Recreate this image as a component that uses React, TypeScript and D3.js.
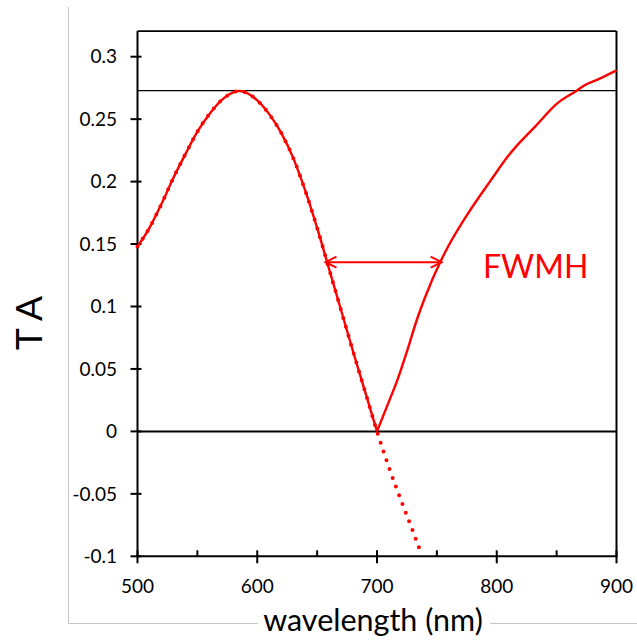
import React from "react";
import * as d3 from "d3";

// Measured series (wavelength nm, value)
const wlModel = [500, 510, 520, 530, 540, 550, 560, 570, 580, 585, 590, 600, 610, 620, 630, 640, 650, 660, 670, 680, 690, 700, 710, 720, 730, 737];
const taModel = [0.148, 0.163, 0.182, 0.203, 0.222, 0.240, 0.254, 0.265, 0.2715, 0.2725, 0.2715, 0.265, 0.254, 0.239, 0.219, 0.193, 0.163, 0.130, 0.097, 0.064, 0.032, 0.0, -0.029, -0.055, -0.080, -0.098];

const wlRight = [700, 710, 717, 725, 733.5, 740, 753, 760, 775, 795, 810, 817, 831, 851, 867, 873, 885, 900];
const taRight = [0.0, 0.024, 0.041, 0.064, 0.090, 0.107, 0.136, 0.149, 0.173, 0.201, 0.221, 0.229, 0.243, 0.263, 0.273, 0.277, 0.282, 0.289];

const xTicks = [500, 600, 700, 800, 900];
const xMinorTicks = [550, 650, 750, 850];
const yTicks = [-0.1, -0.05, 0, 0.05, 0.1, 0.15, 0.2, 0.25, 0.3];
const yTickLabels = ["-0.1", "-0.05", "0", "0.05", "0.1", "0.15", "0.2", "0.25", "0.3"];

const maxValue = [0.2728];
const fwhm = [657, 754];
const halfMax = [0.1355];

const FONT = "Lato, 'Open Sans', sans-serif";
const RED = "#FF0000";

export default function App() {
  const x = d3.scaleLinear().domain([500, 900]).range([137.5, 616.5]);
  const y = d3.scaleLinear().domain([-0.1, 0.3]).range([556.3, 56.7]);
  const yTop = y(0.3205);

  const modelPts: [number, number][] = wlModel.map((w, i) => [w, taModel[i]]);
  const leftSolid = modelPts.filter((p) => p[0] <= 700);
  const rightPts: [number, number][] = wlRight.map((w, i) => [w, taRight[i]]);

  const line = d3
    .line<[number, number]>()
    .x((d) => x(d[0]))
    .y((d) => y(d[1]))
    .curve(d3.curveMonotoneX);

  const xl = x(500);
  const xr = x(900);
  const yb = y(-0.1);

  const ax1 = x(fwhm[0]);
  const ax2 = x(fwhm[1]);
  const ay = y(halfMax[0]);
  const ah = 11;
  const aw = 5.5;

  return (
    <svg
      width={637}
      height={641}
      style={{ position: "absolute", left: 0, top: 0, background: "#fff" }}
    >
      {/* outer frame */}
      <line x1={68.5} y1={7} x2={68.5} y2={623.5} stroke="#c4c4c4" strokeWidth={1} />
      <line x1={68.5} y1={623.5} x2={637} y2={623.5} stroke="#c4c4c4" strokeWidth={1} />

      {/* reference lines */}
      <line x1={xl} x2={xr} y1={y(maxValue[0])} y2={y(maxValue[0])} stroke="#000" strokeWidth={1.3} />
      <line x1={xl} x2={xr} y1={y(0)} y2={y(0)} stroke="#000" strokeWidth={2} />

      {/* plot border */}
      <line x1={xl} x2={xr} y1={yTop} y2={yTop} stroke="#000" strokeWidth={1.6} />
      <line x1={xr} x2={xr} y1={yTop} y2={yb} stroke="#000" strokeWidth={2} />
      <line x1={xl} x2={xl} y1={yTop} y2={yb + 1} stroke="#000" strokeWidth={2} />
      <line x1={xl - 1} x2={xr + 1} y1={yb} y2={yb} stroke="#000" strokeWidth={2} />

      {/* y ticks */}
      {yTicks.map((t, i) => (
        <g key={"y" + i}>
          <line x1={xl - 7} x2={xl + 4} y1={y(t)} y2={y(t)} stroke="#000" strokeWidth={2} />
          <text
            x={117}
            y={y(t)}
            dy="0.35em"
            textAnchor="end"
            fontFamily={FONT}
            fontSize={19}
            fill="#000"
          >
            {yTickLabels[i]}
          </text>
        </g>
      ))}

      {/* x ticks */}
      {xTicks.map((t) => (
        <g key={"x" + t}>
          <line x1={x(t)} x2={x(t)} y1={yb - 6} y2={yb + 7} stroke="#000" strokeWidth={2} />
          <text
            x={x(t)}
            y={592.5}
            textAnchor="middle"
            fontFamily={FONT}
            fontSize={19}
            fill="#000"
          >
            {t}
          </text>
        </g>
      ))}
      {xMinorTicks.map((t) => (
        <line key={"m" + t} x1={x(t)} x2={x(t)} y1={yb - 6} y2={yb} stroke="#000" strokeWidth={2} />
      ))}

      {/* dotted model curve */}
      <path
        d={line(modelPts) || ""}
        fill="none"
        stroke={RED}
        strokeWidth={4}
        strokeLinecap="round"
        strokeDasharray="0 9.3"
      />
      {/* solid measured curve */}
      <path d={line(leftSolid) || ""} fill="none" stroke={RED} strokeWidth={2.4} />
      <path d={line(rightPts) || ""} fill="none" stroke={RED} strokeWidth={2.4} />

      {/* FWHM arrow */}
      <line x1={ax1} x2={ax2} y1={ay} y2={ay} stroke={RED} strokeWidth={2} />
      <polyline
        points={`${ax1 + ah},${ay - aw} ${ax1},${ay} ${ax1 + ah},${ay + aw}`}
        fill="none"
        stroke={RED}
        strokeWidth={2}
      />
      <polyline
        points={`${ax2 - ah},${ay - aw} ${ax2},${ay} ${ax2 - ah},${ay + aw}`}
        fill="none"
        stroke={RED}
        strokeWidth={2}
      />
      <text x={x(788.5)} y={y(0.1228)} fontFamily={FONT} fontSize={32} fill={RED}>
        FWMH
      </text>

      {/* axis titles */}
      <rect x={258} y={612} width={232} height={29} fill="#fff" />
      <text x={373} y={631} textAnchor="middle" fontFamily={FONT} fontSize={30.5} fill="#000">
        wavelength (nm)
      </text>
      <text
        transform="translate(42,323) rotate(-90)"
        textAnchor="middle"
        fontFamily={FONT}
        fontSize={37}
        fill="#000"
      >
        T A
      </text>
    </svg>
  );
}
